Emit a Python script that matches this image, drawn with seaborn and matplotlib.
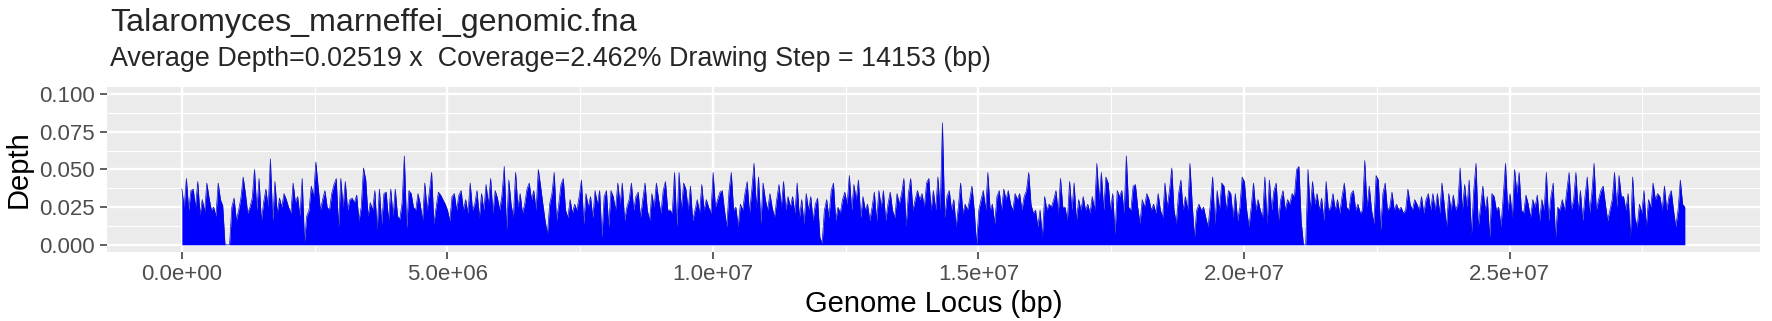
import numpy as np
import pandas as pd
import seaborn as sns
import matplotlib.pyplot as plt
from matplotlib.ticker import FuncFormatter, MultipleLocator

# depth per window, in units of 1e-3 (left -> right)
depth_milli_seg1 = [37, 25, 44, 23, 36, 37, 25, 42, 20, 30, 22, 41, 31, 23, 25, 19, 41, 30, 26, 0,
                    0, 0, 25, 31, 16, 23, 31, 45, 34, 21, 25, 31, 50, 23, 44, 16, 28, 37, 25, 57, 16,
                    42, 21, 31, 25, 34, 30, 25, 21, 41, 28, 32, 19, 44, 2, 19, 23, 39, 32, 55, 39,
                    23, 30, 36, 25, 23, 34, 40, 44, 12, 44, 25, 42, 23, 30, 31, 28, 33, 16, 25, 51,
                    43, 19, 28, 23, 36, 10, 37, 14, 34, 35, 16, 37, 19, 37, 19, 17, 28, 59, 11, 36,
                    34, 25]
depth_milli_seg2 = [23, 34, 27, 16, 41, 23, 35, 48, 14, 25, 35, 33, 30, 27, 23, 16, 32, 34, 23, 33,
                    36, 23, 30, 21, 41, 23, 27, 36, 18, 34, 23, 40, 27, 44, 21, 36, 31, 23, 33, 52,
                    10, 43, 27, 18, 48, 25, 34, 21, 27, 37, 41, 30, 36, 23, 50, 39, 27, 16, 7, 27,
                    34, 48, 16, 27, 40, 44, 23, 18, 30, 21, 27, 23, 32, 43, 14, 34, 25, 32, 18, 36,
                    27, 36, 5, 32, 36, 12, 36, 32, 23, 41, 27, 41, 16, 25, 30, 41, 23, 32, 35, 18,
                    30, 41, 23, 16, 34, 25, 41, 30, 21, 36, 42, 23]
depth_milli_seg3 = [23, 21, 48, 12, 48, 23, 41, 37, 23, 39, 16, 23, 30, 21, 40, 23, 30, 25, 21, 48,
                    25, 30, 35, 36, 23, 12, 36, 48, 23, 25, 12, 27, 23, 34, 42, 21, 36, 54, 25, 45,
                    14, 41, 30, 23, 34, 25, 18, 30, 40, 25, 42, 23, 32, 25, 32, 21, 41, 18, 30, 14,
                    34, 23, 32, 16, 27, 31, 5, 1, 23, 30, 18, 36, 41, 16, 25, 21, 30, 35, 27, 46,
                    23, 40, 30, 43, 18, 32, 23, 27, 16, 25, 35, 16, 36, 25, 36, 16, 27, 35, 23, 18,
                    34, 27, 34, 44, 12, 34, 44, 23, 30, 36]
depth_milli_seg4 = [30, 34, 25, 41, 44, 23, 36, 23, 45, 23, 81, 18, 32, 36, 23, 30, 12, 25, 41, 21,
                    27, 23, 30, 39, 23, 0, 23, 30, 36, 23, 48, 23, 27, 14, 32, 36, 23, 37, 30, 36,
                    27, 23, 34, 30, 34, 23, 32, 36, 48, 27, 21, 23, 12, 23, 5, 32, 23, 27, 25, 30,
                    36, 21, 44, 25, 25, 16, 42, 23, 41, 16, 30, 23, 32, 23, 27, 21, 32, 23, 54, 30,
                    48, 23, 45, 41, 23, 34, 7, 36, 32, 36, 21, 59, 25, 23, 39, 40, 25, 14, 30, 25,
                    34, 30, 23, 27, 21, 34, 23, 18, 41, 25, 36, 51, 23, 14, 34, 43, 23]
depth_milli_seg5 = [32, 23, 54, 27, 5, 23, 27, 23, 25, 18, 12, 27, 45, 14, 36, 23, 41, 39, 23, 36,
                    34, 18, 34, 16, 25, 45, 42, 23, 12, 25, 41, 23, 30, 23, 18, 45, 14, 43, 23, 36,
                    41, 16, 30, 36, 23, 30, 27, 34, 32, 50, 52, 16, 0, 0, 50, 23, 42, 27, 34, 23,
                    31, 16, 42, 23, 25, 34, 23, 30, 21, 32, 41, 25, 23, 34, 36, 23, 27, 21, 23, 56,
                    25, 39, 23, 14, 46, 43, 10, 34, 41, 23, 25, 35, 23, 27, 23, 25, 21, 23, 37, 27,
                    23, 30, 27, 23, 32, 21, 30, 34, 23]
depth_milli_seg6 = [34, 23, 34, 21, 41, 27, 12, 34, 23, 33, 23, 27, 51, 23, 40, 25, 43, 7, 36, 54,
                    12, 25, 39, 23, 32, 5, 34, 32, 23, 25, 12, 32, 54, 23, 34, 18, 50, 34, 48, 23,
                    21, 33, 27, 18, 30, 25, 33, 16, 30, 23, 48, 16, 32, 41, 5, 25, 23, 30, 23, 36,
                    48, 23, 30, 48, 23, 36, 16, 32, 45, 21, 34, 54, 23, 30, 36, 39, 27, 16, 23, 30,
                    48, 25, 46, 32, 32, 23, 34, 5, 45, 18, 12, 27, 21, 36, 12, 30, 25, 41, 30, 34,
                    32, 23, 39, 23, 32, 36, 23, 12, 23, 43, 27, 25]

genome_len = 28_300_000
title = "Talaromyces_marneffei_genomic.fna"
subtitle = "Average Depth=0.02519 x  Coverage=2.462% Drawing Step = 14153 (bp)"

depth = np.concatenate([depth_milli_seg1, depth_milli_seg2, depth_milli_seg3,
                        depth_milli_seg4, depth_milli_seg5, depth_milli_seg6]) / 1000.0
df = pd.DataFrame({"pos": np.linspace(0, genome_len, len(depth)), "depth": depth})

sns.set_theme(style="darkgrid", rc={"axes.facecolor": "#EBEBEB", "grid.color": "white"})
plt.rcParams["font.family"] = ["Liberation Sans", "DejaVu Sans"]

W, H = 1772, 321
fig = plt.figure(figsize=(W / 100, H / 100), dpi=100)
fig.patch.set_facecolor("white")
left, right, top, bottom = 106.7, 1760, 86.7, 252.3
ax = fig.add_axes([left / W, 1 - bottom / H, (right - left) / W, (bottom - top) / H])

ax.fill_between(df["pos"], 0, df["depth"], color="#0000FF", lw=0, zorder=3)
sns.lineplot(data=df, x="pos", y="depth", ax=ax, color="#1010C0", lw=0.5, zorder=4)

ax.set_xlim(-0.05 * genome_len, 1.05 * genome_len)
ax.set_ylim(-0.005, 0.105)
ax.xaxis.set_major_locator(MultipleLocator(5e6))
ax.xaxis.set_minor_locator(MultipleLocator(2.5e6))
ax.yaxis.set_major_locator(MultipleLocator(0.025))
ax.yaxis.set_minor_locator(MultipleLocator(0.0125))
ax.xaxis.set_major_formatter(FuncFormatter(lambda v, p: f"{v:.1e}"))
ax.yaxis.set_major_formatter(FuncFormatter(lambda v, p: f"{v:.3f}"))

ax.grid(which="major", color="white", lw=1.7)
ax.grid(which="minor", color="white", lw=0.85)
for s in ax.spines.values():
    s.set_visible(False)
ax.tick_params(which="major", length=4.8, width=1.1, color="#333333",
               labelcolor="#4D4D4D", labelsize=16, pad=3.5, bottom=True, left=True)
ax.tick_params(which="minor", length=0)

ax.set_xlabel("Genome Locus (bp)", fontsize=21, color="black", labelpad=4)
ax.set_ylabel("Depth", fontsize=21, color="black", labelpad=5)

fig.text(110 / W, 1 - 31 / H, title, fontsize=23.2, va="baseline", ha="left")
fig.text(110 / W, 1 - 66.5 / H, subtitle, fontsize=19.4, va="baseline", ha="left")

fig.savefig("out.png", dpi=100)
